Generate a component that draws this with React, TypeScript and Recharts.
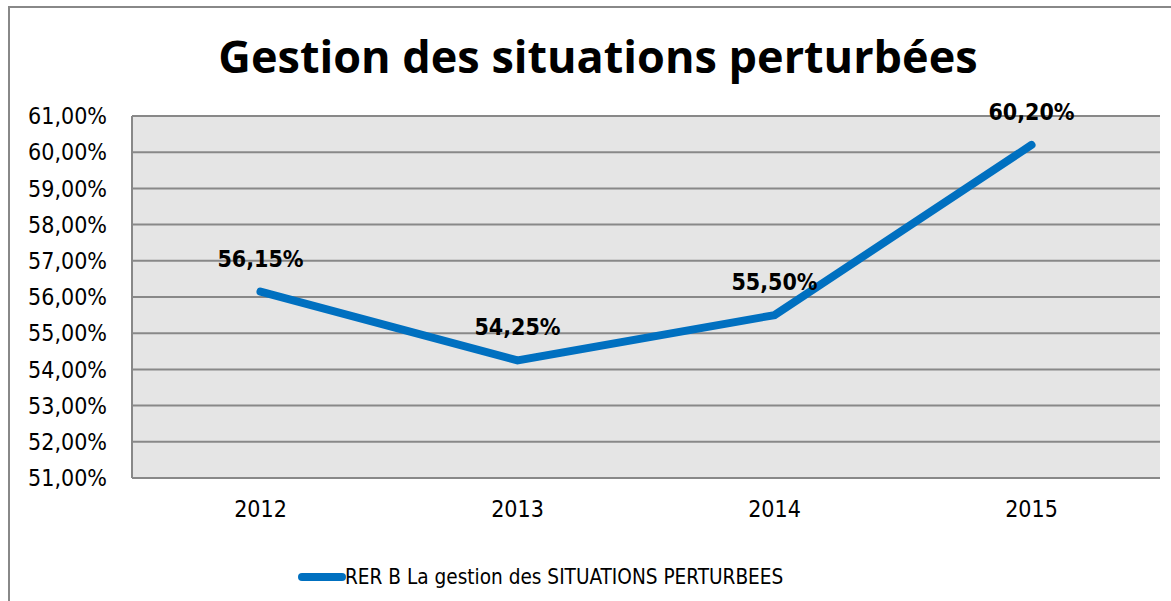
import React from 'react';
import { LineChart, Line, XAxis, YAxis, CartesianGrid, LabelList } from 'recharts';

const years = ['2012', '2013', '2014', '2015'];
const values = [56.15, 54.25, 55.5, 60.2];
const yTicks = [51, 52, 53, 54, 55, 56, 57, 58, 59, 60, 61];
const seriesName = 'RER B La gestion des SITUATIONS PERTURBEES';
const title = 'Gestion des situations perturbées';

const data = years.map((y, i) => ({ year: y, value: values[i] }));

const fmt = (v: number) => v.toFixed(2).replace('.', ',') + '%';

const TICK_FONT = '"DejaVu Sans Condensed", "DejaVu Sans", sans-serif';
const LINE_COLOR = '#0070c0';

const renderLabel = (props: any) => {
  const { x, y, value } = props;
  return (
    <text
      x={x}
      y={y - 25}
      textAnchor="middle"
      fontFamily={TICK_FONT}
      fontWeight="bold"
      fontSize={23}
      fill="#000"
    >
      {fmt(Number(value))}
    </text>
  );
};

export default function App() {
  return (
    <div style={{ position: 'absolute', left: 0, top: 0, width: 1171, height: 601, background: '#fff', overflow: 'hidden' }}>
      <svg width={1171} height={601} style={{ position: 'absolute', left: 0, top: 0 }}>
        <rect x={9} y={7} width={1200} height={640} fill="#fff" stroke="#888" strokeWidth={2} />
        <text x={598} y={73} textAnchor="middle" fontFamily='"Open Sans", sans-serif' fontWeight="bold" fontSize={45} fill="#000">
          {title}
        </text>
        <line x1={302} y1={577} x2={342} y2={577} stroke={LINE_COLOR} strokeWidth={8} strokeLinecap="round" />
        <text x={345} y={584} fontFamily={TICK_FONT} fontSize={20.6} fill="#000">
          {seriesName}
        </text>
      </svg>
      <div style={{ position: 'absolute', left: 0, top: 0 }}>
        <LineChart width={1171} height={601} data={data} margin={{ top: 116, right: 11, left: 32, bottom: 83 }}>
          <CartesianGrid vertical={false} fill="#e5e5e5" stroke="#888" strokeWidth={2} fillOpacity={1} />
          <XAxis
            dataKey="year"
            padding={{ left: 128.5, right: 128.5 }}
            tickLine={false}
            tickSize={0}
            tickMargin={23}
            height={40}
            axisLine={{ stroke: '#888', strokeWidth: 2 }}
            tick={{ fill: '#000', fontFamily: TICK_FONT, fontSize: 23 }}
          />
          <YAxis
            domain={[51, 61]}
            ticks={yTicks}
            interval={0}
            width={100}
            tickLine={false}
            tickSize={0}
            tickMargin={25}
            tickFormatter={fmt}
            axisLine={{ stroke: '#888', strokeWidth: 2 }}
            tick={{ fill: '#000', fontFamily: TICK_FONT, fontSize: 23 }}
          />
          <Line
            type="linear"
            dataKey="value"
            name={seriesName}
            stroke={LINE_COLOR}
            strokeWidth={8}
            strokeLinecap="round"
            strokeLinejoin="miter"
            dot={false}
            activeDot={false}
            isAnimationActive={false}
          >
            <LabelList dataKey="value" content={renderLabel} />
          </Line>
        </LineChart>
      </div>
    </div>
  );
}
